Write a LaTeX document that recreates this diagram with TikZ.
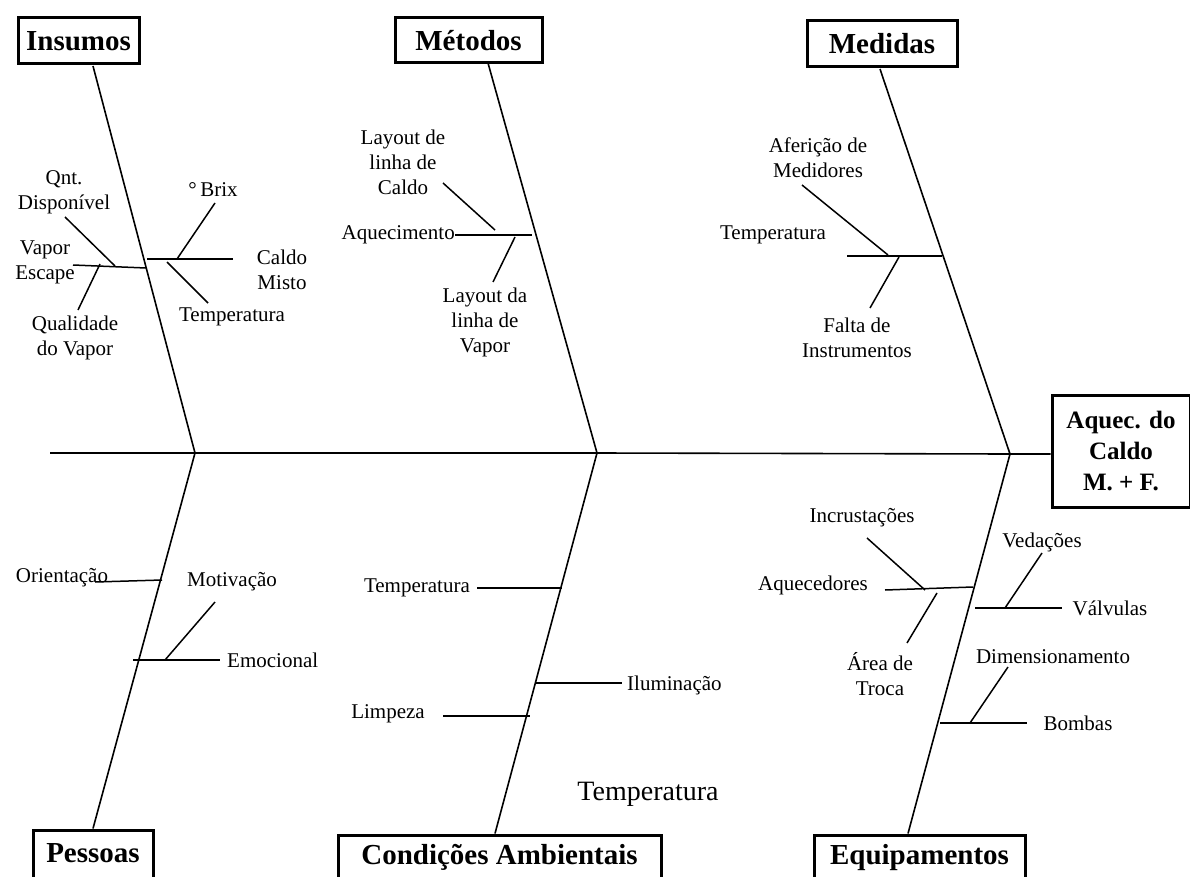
\documentclass[tikz,border=0pt]{standalone}
\usepackage{fontspec}
\setmainfont{Liberation Serif}
\begin{document}
\begin{tikzpicture}[x=1pt,y=-1pt,
  bone/.style={line width=1.6pt},
  twig/.style={line width=1.5pt},
  lbl/.style={font=\fontsize{21}{25}\selectfont, align=center, inner sep=0pt},
  biglbl/.style={font=\fontsize{28}{32}\selectfont, align=center, inner sep=0pt},
  catbox/.style={draw, line width=3pt, font=\bfseries\fontsize{29}{33}\selectfont, inner sep=0pt, align=center, text height=24pt, text depth=4pt},
  botbox/.style={catbox, text height=20pt, text depth=6pt},
  effbox/.style={draw, line width=3pt, font=\bfseries\fontsize{25}{31}\selectfont, inner sep=0pt, align=center}]
\useasboundingbox (0,0) rectangle (1190,877);
\fill[white] (0,0) rectangle (1190,877);

% category boxes
\node[catbox, minimum width=121pt, minimum height=46pt] (ins) at (78.5,41) {Insumos};
\node[catbox, minimum width=147pt, minimum height=45pt] (met) at (468.5,40.5) {Métodos};
\node[catbox, minimum width=150pt, minimum height=46pt] (med) at (882,44) {Medidas};
\node[botbox, minimum width=120pt, minimum height=50pt] (pes) at (93,855) {Pessoas};
\node[botbox, minimum width=323pt, minimum height=44pt] (con) at (499.5,857) {Condições Ambientais};
\node[botbox, minimum width=211pt, minimum height=44pt] (equ) at (919.5,857) {Equipamentos};
\node[effbox, minimum width=138pt, minimum height=112pt] (eff) at (1121,451) {Aquec. do\\Caldo\\M. + F.};

% spine and main bones
\coordinate (s0) at (50,453);
\coordinate (j1) at (195,453);
\coordinate (j2) at (597,453);
\coordinate (j3) at (1010,454);
\coordinate (tI) at (93,66);
\coordinate (tM) at (488,63);
\coordinate (tD) at (880,69);
\draw[bone] (s0) -- (j1) -- (j2) -- (j3) -- (eff.west |- j3);
\draw[bone] (tI) -- (j1) -- (pes.north);
\draw[bone] (tM) -- (j2) -- (con.north -| 495,0);
\draw[bone] (tD) -- (j3) -- (equ.north -| 908,0);

% Insumos
\node[lbl] (q1) at (64,192) {Qnt.\\Disponível};
\node[lbl] (q2) at (45,262) {Vapor\\Escape};
\node[lbl] (q3) at (75,338) {Qualidade\\do Vapor};
\node[lbl] (q4) at (213,190) {°\,Brix};
\node[lbl] (q5) at (282,270) {Caldo\\Misto};
\node[lbl] (q6) at (232,317) {Temperatura};
\coordinate (a1) at (73,265); \coordinate (a2) at (146,268);
\coordinate (a3) at (65,217); \coordinate (a4) at (115,266);
\coordinate (a5) at (78,310); \coordinate (a6) at (100,264);
\coordinate (a7) at (147,259); \coordinate (a8) at (233,259);
\coordinate (a9) at (177,259); \coordinate (a10) at (215,203);
\coordinate (a11) at (167,262); \coordinate (a12) at (208,303);
\draw[twig] (a1) -- (a2);
\draw[twig] (a3) -- (a4);
\draw[twig] (a5) -- (a6);
\draw[twig] (a7) -- (a8);
\draw[twig] (a9) -- (a10);
\draw[twig] (a11) -- (a12);

% Metodos
\node[lbl] (m1) at (403,162) {Layout de\\linha de\\Caldo};
\node[lbl, anchor=east] (m2) at (455,235) {Aquecimento};
\node[lbl] (m3) at (485,322) {Layout da\\linha de\\Vapor};
\coordinate (b1) at (532,235);
\coordinate (b2) at (443,183); \coordinate (b3) at (495,230);
\coordinate (b4) at (515,237); \coordinate (b5) at (493,282);
\draw[twig] (m2.east) -- (b1);
\draw[twig] (b2) -- (b3);
\draw[twig] (b4) -- (b5);

% Medidas
\node[lbl] (d1) at (818,158) {Aferição de\\Medidores};
\node[lbl] (d2) at (773,235) {Temperatura};
\node[lbl] (d3) at (857,338) {Falta de\\Instrumentos};
\coordinate (c1) at (847,256); \coordinate (c2) at (942,256);
\coordinate (c3) at (802,185); \coordinate (c4) at (888,255);
\coordinate (c5) at (899,257); \coordinate (c6) at (870,308);
\draw[twig] (c1) -- (c2);
\draw[twig] (c3) -- (c4);
\draw[twig] (c5) -- (c6);

% Pessoas
\node[lbl] (p1) at (62,578) {Orientação};
\node[lbl] (p2) at (232,582) {Motivação};
\node[lbl, anchor=west] (p3) at (227,660) {Emocional};
\coordinate (e1) at (95,582); \coordinate (e2) at (162,580);
\coordinate (e3) at (133,660); \coordinate (e4) at (220,660);
\coordinate (e5) at (165,660); \coordinate (e6) at (215,602);
\draw[twig] (e1) -- (e2);
\draw[twig] (e3) -- (e4);
\draw[twig] (e5) -- (e6);

% Condicoes Ambientais
\node[lbl, anchor=east] (k1) at (470,588) {Temperatura};
\node[lbl, anchor=west] (k2) at (627,685) {Iluminação};
\node[lbl] (k3) at (388,714) {Limpeza};
\node[biglbl] (k4) at (648,794) {Temperatura};
\coordinate (f1) at (477,588); \coordinate (f2) at (562,588);
\coordinate (f3) at (535,683); \coordinate (f4) at (622,683);
\coordinate (f5) at (443,716); \coordinate (f6) at (530,716);
\draw[twig] (f1) -- (f2);
\draw[twig] (f3) -- (f4);
\draw[twig] (f5) -- (f6);

% Equipamentos
\node[lbl] (g1) at (862,518) {Incrustações};
\node[lbl] (g2) at (813,585) {Aquecedores};
\node[lbl] (g3) at (880,674) {Área de\\Troca};
\node[lbl] (g4) at (1042,542) {Vedações};
\node[lbl] (g5) at (1110,608) {Válvulas};
\node[lbl] (g6) at (1053,657) {Dimensionamento};
\node[lbl] (g7) at (1078,723) {Bombas};
\coordinate (h1) at (885,590); \coordinate (h2) at (973,587);
\coordinate (h3) at (867,538); \coordinate (h4) at (925,590);
\coordinate (h5) at (937,593); \coordinate (h6) at (907,643);
\coordinate (h7) at (975,608); \coordinate (h8) at (1062,608);
\coordinate (h9) at (1005,608); \coordinate (h10) at (1042,553);
\coordinate (h11) at (940,723); \coordinate (h12) at (1027,723);
\coordinate (h13) at (970,723); \coordinate (h14) at (1008,667);
\draw[twig] (h1) -- (h2);
\draw[twig] (h3) -- (h4);
\draw[twig] (h5) -- (h6);
\draw[twig] (h7) -- (h8);
\draw[twig] (h9) -- (h10);
\draw[twig] (h11) -- (h12);
\draw[twig] (h13) -- (h14);
\end{tikzpicture}
\end{document}
